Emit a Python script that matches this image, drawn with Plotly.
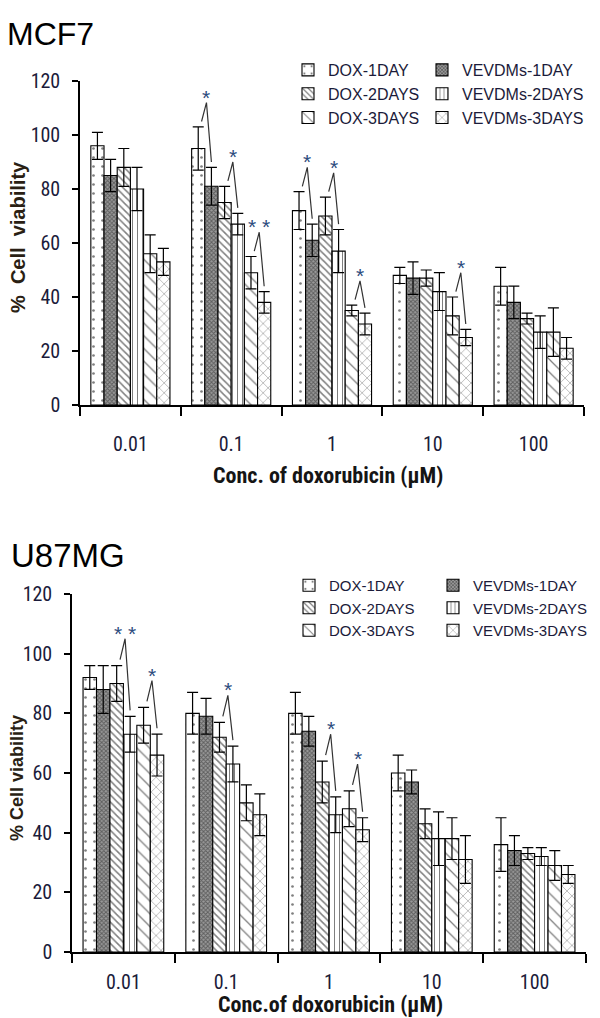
import plotly.graph_objects as go

# ---------------- data ----------------
concentrations = ["0.01", "0.1", "1", "10", "100"]
series_names = ["DOX-1DAY", "VEVDMs-1DAY", "DOX-2DAYS", "VEVDMs-2DAYS", "DOX-3DAYS", "VEVDMs-3DAYS"]

# MCF7 (% cell viability, mean and error)
mcf7_dox_1day = [96, 95, 72, 48, 44]
mcf7_dox_1day_err = [5, 8, 7, 3, 7]
mcf7_vev_1day = [85, 81, 61, 47, 38]
mcf7_vev_1day_err = [6, 7, 6, 6, 6]
mcf7_dox_2days = [88, 75, 70, 47, 32]
mcf7_dox_2days_err = [7, 6, 7, 3, 2]
mcf7_vev_2days = [80, 67, 57, 42, 27]
mcf7_vev_2days_err = [8, 4, 8, 7, 6]
mcf7_dox_3days = [56, 49, 35, 33, 27]
mcf7_dox_3days_err = [7, 6, 2, 7, 9]
mcf7_vev_3days = [53, 38, 30, 25, 21]
mcf7_vev_3days_err = [5, 4, 4, 3, 4]

# U87MG
u87_dox_1day = [92, 80, 80, 60, 36]
u87_dox_1day_err = [4, 7, 7, 6, 9]
u87_vev_1day = [88, 79, 74, 57, 34]
u87_vev_1day_err = [8, 6, 5, 4, 5]
u87_dox_2days = [90, 72, 57, 43, 33]
u87_dox_2days_err = [6, 5, 7, 5, 2]
u87_vev_2days = [73, 63, 46, 38, 32]
u87_vev_2days_err = [6, 6, 6, 9, 3]
u87_dox_3days = [76, 50, 48, 38, 29]
u87_dox_3days_err = [6, 6, 6, 7, 5]
u87_vev_3days = [66, 46, 41, 31, 26]
u87_vev_3days_err = [7, 7, 4, 8, 3]

# significance marks: (concentration index, left bar, right bar, label)
mcf7_sig = [(1, 0, 1, "*"), (1, 2, 3, "*"), (1, 4, 5, "* *"),
            (2, 0, 1, "*"), (2, 2, 3, "*"), (2, 4, 5, "*"),
            (3, 4, 5, "*")]
u87_sig = [(0, 2, 3, "* *"), (0, 4, 5, "*"), (1, 2, 3, "*"),
           (2, 2, 3, "*"), (2, 4, 5, "*")]

mcf7_vals = [mcf7_dox_1day, mcf7_vev_1day, mcf7_dox_2days, mcf7_vev_2days, mcf7_dox_3days, mcf7_vev_3days]
mcf7_errs = [mcf7_dox_1day_err, mcf7_vev_1day_err, mcf7_dox_2days_err, mcf7_vev_2days_err, mcf7_dox_3days_err, mcf7_vev_3days_err]
u87_vals = [u87_dox_1day, u87_vev_1day, u87_dox_2days, u87_vev_2days, u87_dox_3days, u87_vev_3days]
u87_errs = [u87_dox_1day_err, u87_vev_1day_err, u87_dox_2days_err, u87_vev_2days_err, u87_dox_3days_err, u87_vev_3days_err]

# ---------------- style ----------------
# the page body keeps its default 8px margin, so the figure is 8px smaller
OFF = 8
W, H = 600 - OFF, 1018 - OFF
BARGAP = 0.215
SANS = "Liberation Sans, Arial"
COND = "Roboto Condensed, Liberation Sans Narrow, Liberation Sans"
TICKCOL = "#1b1b3a"
STARCOL = "#2d4b7d"

F_TICK = dict(family=COND, size=20, color=TICKCOL)
F_XTITLE = dict(family=COND, size=22, color="#151515")

patterns = [
    dict(shape=".", size=9, solidity=0.07, fgcolor="black", bgcolor="white"),
    dict(shape="x", size=3, solidity=0.55, fgcolor="#222222", bgcolor="#9a9a9a"),
    dict(shape="\\", size=5, solidity=0.3, fgcolor="black", bgcolor="white"),
    dict(shape="|", size=5, solidity=0.2, fgcolor="black", bgcolor="white"),
    dict(shape="\\", size=9, solidity=0.14, fgcolor="black", bgcolor="white"),
    dict(shape="x", size=7, solidity=0.14, fgcolor="black", bgcolor="white"),
]

fig = go.Figure()


def px_x(p):
    return (p - OFF) / W


def px_y(p):
    return 1 - (p - OFF) / H


def add_chart(vals, errs, sigs, xa, ya, leg_a, leg_b):
    n = len(series_names)
    for k in range(n):
        fig.add_trace(go.Bar(
            x=list(range(len(concentrations))), y=vals[k], name=series_names[k],
            xaxis=xa, yaxis=ya,
            legend=leg_a if k % 2 == 0 else leg_b,
            marker=dict(color="white", line=dict(color="black", width=1.1), pattern=patterns[k]),
            error_y=dict(type="data", array=errs[k], color="black", thickness=1.2, width=5.5),
        ))
    bw = (1 - BARGAP) / n
    lx, ly = [], []
    for (g, a, b, lab) in sigs:
        xa_c = g - (1 - BARGAP) / 2 + (a + 0.5) * bw + 0.25 * bw
        xb_c = g - (1 - BARGAP) / 2 + (b + 0.5) * bw
        ya_e = vals[a][g] + errs[a][g] + 2
        yb_e = vals[b][g] + errs[b][g] + 2
        apex_x = (xa_c + xb_c) / 2
        apex_y = max(ya_e, yb_e) + 7
        lx += [xa_c, apex_x, xb_c, None]
        ly += [ya_e, apex_y, yb_e, None]
        fig.add_annotation(x=apex_x, y=apex_y, xref=xa, yref=ya, text=lab, showarrow=False,
                           yanchor="bottom", yshift=-8,
                           font=dict(family=SANS, size=21, color=STARCOL))
    fig.add_trace(go.Scatter(x=lx, y=ly, mode="lines", xaxis=xa, yaxis=ya, showlegend=False,
                             line=dict(color="#333333", width=1.2), hoverinfo="skip"))


add_chart(mcf7_vals, mcf7_errs, mcf7_sig, "x", "y", "legend", "legend2")
add_chart(u87_vals, u87_errs, u87_sig, "x2", "y2", "legend3", "legend4")


def xaxis_cfg(d0, d1, anchor, standoff):
    return dict(domain=[px_x(d0), px_x(d1)], anchor=anchor, range=[-0.5, 4.5],
                tickmode="array", tickvals=list(range(len(concentrations))), ticktext=concentrations,
                ticks="", showline=True, linecolor="black", linewidth=1.5,
                showgrid=False, zeroline=False, ticklabelstandoff=standoff,
                tickfont=F_TICK,
                minor=dict(tick0=-0.5, dtick=1, ticks="outside", ticklen=9, tickwidth=1.5,
                           tickcolor="black", showgrid=False))


def yaxis_cfg(top, bottom, anchor):
    return dict(domain=[px_y(bottom), px_y(top)], anchor=anchor, range=[0, 120],
                tickmode="linear", tick0=0, dtick=20, ticks="outside", ticklen=6, tickwidth=1.5,
                tickcolor="black", showline=True, linecolor="black", linewidth=1.5,
                showgrid=False, zeroline=False, ticklabelstandoff=8,
                tickfont=F_TICK)


def legend_cfg(xp, yp, size):
    return dict(orientation="v", font=dict(family=SANS, size=size, color=TICKCOL),
                bgcolor="rgba(0,0,0,0)", itemwidth=30, tracegroupgap=0,
                xanchor="left", yanchor="top", itemclick=False,
                x=px_x(xp), y=px_y(yp))


fig.update_layout(
    width=W, height=H, margin=dict(l=0, r=0, t=0, b=0, autoexpand=False),
    paper_bgcolor="white", plot_bgcolor="white",
    barmode="group", bargap=BARGAP, bargroupgap=0,
    xaxis=xaxis_cfg(80, 584, "y", 20),
    yaxis=yaxis_cfg(81, 405, "x"),
    xaxis2=xaxis_cfg(72, 586, "y2", 11),
    yaxis2=yaxis_cfg(594, 952, "x2"),
    legend=legend_cfg(288, 53, 16),
    legend2=legend_cfg(422, 53, 16),
    legend3=legend_cfg(289, 569, 15),
    legend4=legend_cfg(433, 569, 15),
    showlegend=True,
)

# panel titles
fig.add_annotation(x=px_x(5), y=px_y(34), xref="paper", yref="paper", text="MCF7", showarrow=False,
                   xanchor="left", yanchor="middle", font=dict(family=SANS, size=32, color="black"))
fig.add_annotation(x=px_x(9), y=px_y(555), xref="paper", yref="paper", text="U87MG", showarrow=False,
                   xanchor="left", yanchor="middle", font=dict(family=SANS, size=33, color="black"))

# axis titles
fig.add_annotation(x=px_x(328), y=px_y(476), xref="paper", yref="paper",
                   text="<b>Conc. of doxorubicin (µM)</b>", showarrow=False,
                   xanchor="center", yanchor="middle", font=F_XTITLE)
fig.add_annotation(x=px_x(330), y=px_y(1004), xref="paper", yref="paper",
                   text="<b>Conc.of doxorubicin (µM)</b>", showarrow=False,
                   xanchor="center", yanchor="middle", font=F_XTITLE)
fig.add_annotation(x=px_x(18), y=px_y(237), xref="paper", yref="paper",
                   text="<b>%  Cell  viability</b>", showarrow=False, textangle=-90,
                   xanchor="center", yanchor="middle", font=dict(family=SANS, size=20, color="#2a1f14"))
fig.add_annotation(x=px_x(17), y=px_y(778), xref="paper", yref="paper",
                   text="<b>% Cell viability</b>", showarrow=False, textangle=-90,
                   xanchor="center", yanchor="middle", font=dict(family=SANS, size=18, color="#2a1f14"))

fig.write_html("out.html")
